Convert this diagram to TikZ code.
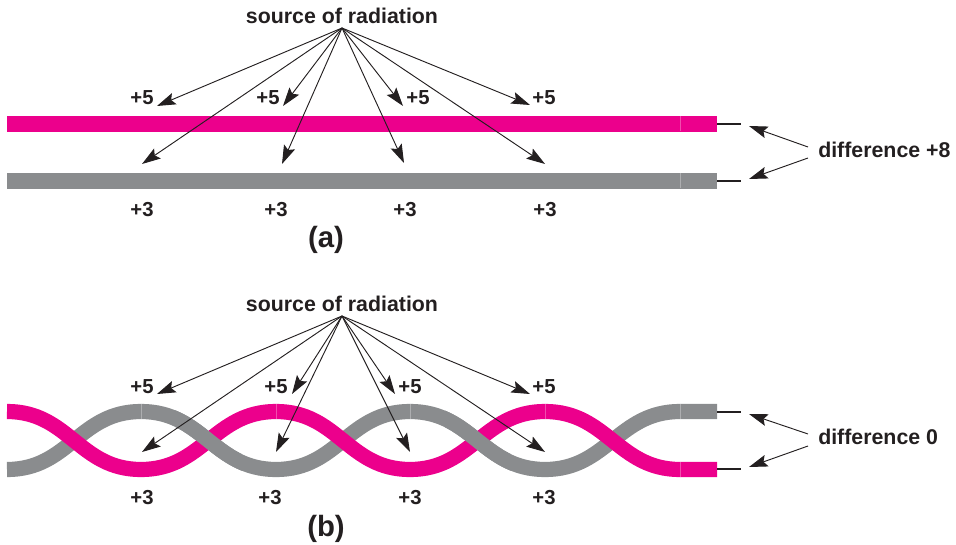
\documentclass[tikz,border=0pt]{standalone}
\usepackage{fontspec}
\setmainfont{Liberation Sans}
\usetikzlibrary{arrows.meta}
\definecolor{Magenta}{HTML}{EC008C}
\definecolor{Steel}{HTML}{8A8C8E}
\definecolor{Ink}{HTML}{231F20}
\tikzset{
  lbl/.style={font=\bfseries\fontsize{16}{18}\selectfont,text=Ink,inner sep=0pt},
  numl/.style={font=\bfseries\fontsize{15.2}{17}\selectfont,text=Ink,inner sep=0pt},
  bigl/.style={font=\bfseries\fontsize{22}{24}\selectfont,text=Ink,inner sep=0pt},
  ray/.style={draw=Ink,line width=.7pt,-{Stealth[length=14pt,width=9pt,inset=2.5pt]}},
  tick/.style={draw=Ink,line width=.8pt},
  pinkband/.style={draw=Magenta,line width=11.4pt},
  greyband/.style={draw=Steel,line width=11.4pt},
  seam/.style={draw=white,opacity=.3,line width=.4pt},
}
\begin{document}
\begin{tikzpicture}[x=.75pt,y=-.75pt]
  \useasboundingbox (0,0) rectangle (956,545);
  % straight pair
  \draw[pinkband] (7,124) -- (717,124);
  \draw[greyband] (7,181) -- (717,181);
  \draw[seam] (680,116.5) -- (680,131.5);
  \draw[seam] (680,173.5) -- (680,188.5);
  \node[lbl] (srca) at (342,16) {source of radiation};
  \coordinate (oa) at (342,28);
  \foreach \n/\x/\y in {a/157/106,b/283/106,c/403/106,d/530/105} {
    \coordinate (p\n) at (\x,\y);
    \draw[ray] (oa) -- (p\n);
  }
  \foreach \n/\x/\y in {a/142/164,b/282/164,c/404/163,d/545/164} {
    \coordinate (q\n) at (\x,\y);
    \draw[ray] (oa) -- (q\n);
  }
  \node[numl] (f1) at (142,98) {+5};
  \node[numl] (f2) at (268,98) {+5};
  \node[numl] (f3) at (418,98) {+5};
  \node[numl] (f4) at (544,98) {+5};
  \node[numl] (t1) at (142,210) {+3};
  \node[numl] (t2) at (276,210) {+3};
  \node[numl] (t3) at (405,210) {+3};
  \node[numl] (t4) at (545,210) {+3};
  \node[bigl] (capa) at (326,240) {(a)};
  \coordinate (ba) at (717,124);
  \coordinate (bb) at (717,181);
  \coordinate (ea) at (741,124);
  \coordinate (eb) at (741,181);
  \draw[tick] (ba) -- (ea);
  \draw[tick] (bb) -- (eb);
  \node[lbl,anchor=west] (diffa) at (818,150) {difference +8};
  \coordinate (sa) at (808,147);
  \coordinate (sb) at (808,158);
  \coordinate (da) at (749,126);
  \coordinate (db) at (749,179);
  \draw[ray] (sa) -- (da);
  \draw[ray] (sb) -- (db);
  % twisted pair
  \draw[greyband] (7,469.5) .. controls (69,469.5) and (79,411.5) .. (141,411.5)
    .. controls (203,411.5) and (214,469.5) .. (276,469.5)
    .. controls (338,469.5) and (348,411.5) .. (410,411.5)
    .. controls (472,411.5) and (483,469.5) .. (545,469.5)
    .. controls (607,469.5) and (618,411.5) .. (680,411.5) -- (717,411.5);
  \draw[pinkband] (7,411.5) .. controls (69,411.5) and (79,469.5) .. (141,469.5)
    .. controls (203,469.5) and (214,411.5) .. (276,411.5)
    .. controls (338,411.5) and (348,469.5) .. (410,469.5)
    .. controls (472,469.5) and (483,411.5) .. (545,411.5)
    .. controls (607,411.5) and (618,469.5) .. (680,469.5) -- (717,469.5);
  % grey goes back over the pink at the 2nd and 4th crossing
  \begin{scope}
    \clip (175,400) rectangle (242,480);
    \draw[greyband] (141,411.5) .. controls (203,411.5) and (214,469.5) .. (276,469.5);
  \end{scope}
  \begin{scope}
    \clip (445,400) rectangle (511,480);
    \draw[greyband] (410,411.5) .. controls (472,411.5) and (483,469.5) .. (545,469.5);
  \end{scope}
  \foreach \x in {141,276,410,545,680} {
    \draw[seam] (\x,404) -- (\x,419);
  }
  \draw[seam] (680,462) -- (680,477);
  \node[lbl] (srcb) at (342,304) {source of radiation};
  \coordinate (ob) at (342,316);
  \foreach \n/\x/\y in {a/157/394,b/292/394,c/395/394,d/530/394} {
    \coordinate (u\n) at (\x,\y);
    \draw[ray] (ob) -- (u\n);
  }
  \foreach \n/\x/\y in {a/142/452,b/276/452,c/410/452,d/545/452} {
    \coordinate (v\n) at (\x,\y);
    \draw[ray] (ob) -- (v\n);
  }
  \node[numl] (g1) at (142,387) {+5};
  \node[numl] (g2) at (276,387) {+5};
  \node[numl] (g3) at (410,387) {+5};
  \node[numl] (g4) at (544,387) {+5};
  \node[numl] (h1) at (142,498) {+3};
  \node[numl] (h2) at (270,498) {+3};
  \node[numl] (h3) at (410,498) {+3};
  \node[numl] (h4) at (544,498) {+3};
  \node[bigl] (capb) at (326,529) {(b)};
  \coordinate (bc) at (717,412);
  \coordinate (bd) at (717,469);
  \coordinate (ec) at (741,412);
  \coordinate (ed) at (741,469);
  \draw[tick] (bc) -- (ec);
  \draw[tick] (bd) -- (ed);
  \node[lbl,anchor=west] (diffb) at (818,437) {difference 0};
  \coordinate (sc) at (808,434);
  \coordinate (sd) at (808,446);
  \coordinate (dc) at (749,414);
  \coordinate (dd) at (749,467);
  \draw[ray] (sc) -- (dc);
  \draw[ray] (sd) -- (dd);
\end{tikzpicture}
\end{document}
